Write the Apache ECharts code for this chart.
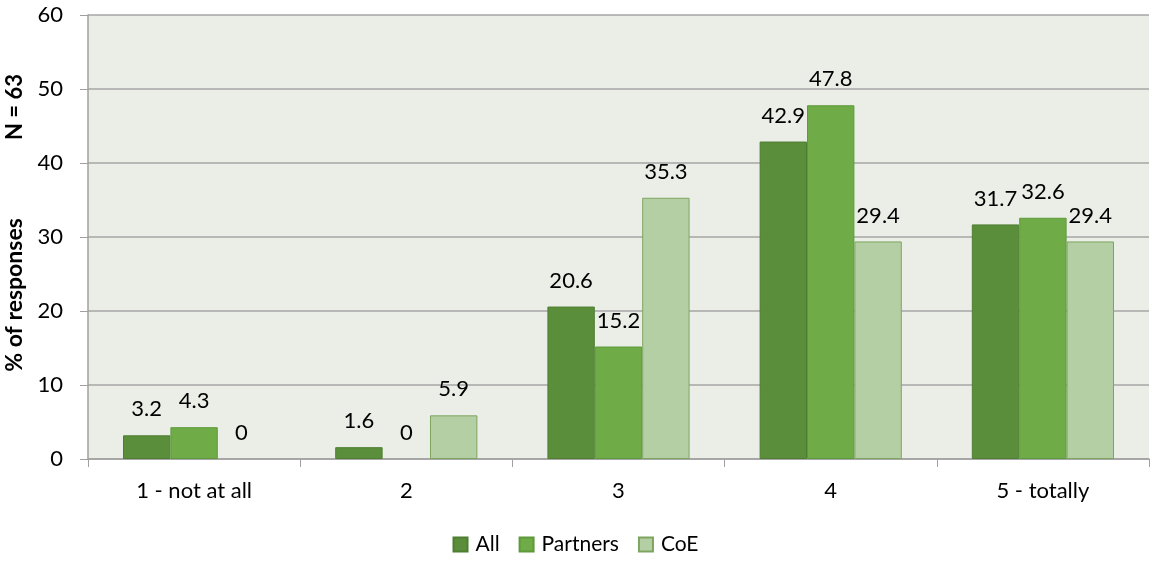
<!DOCTYPE html>
<html>
<head>
<meta charset="utf-8">
<script src="https://cdn.jsdelivr.net/npm/echarts@6/dist/echarts.min.js"></script>
<style>
  html, body { margin: 0; padding: 0; background: #ffffff; }
  #chart { width: 1151px; height: 563px; }
</style>
</head>
<body>
<div id="chart"></div>
<script>
// Response categories along the horizontal axis
const categories = ['1 - not at all', '2', '3', '4', '5 - totally'];

// Share of responses (%) per group
const allValues = [3.2, 1.6, 20.6, 42.9, 31.7];
const partnersValues = [4.3, 0, 15.2, 47.8, 32.6];
const coeValues = [0, 5.9, 35.3, 29.4, 29.4];

const seriesNames = ['All', 'Partners', 'CoE'];
const yTicks = { min: 0, max: 60, interval: 10 };

const FONT = 'Lato, "Open Sans", sans-serif';
const colors = ['#5b8e3a', '#6fac47', '#b5cfa5'];
const borders = ['#4f7e32', '#5e9a3b', '#7ea560'];

const chart = echarts.init(document.getElementById('chart'), null, { renderer: 'canvas' });

function makeSeries(name, data, idx) {
  return {
    name: name,
    type: 'bar',
    // zero bars get no fill or outline so only their label is visible
    data: data.map(v => v === 0
      ? { value: v, itemStyle: { borderWidth: 0, color: 'rgba(0,0,0,0)' } }
      : v),
    barGap: '0%',
    barCategoryGap: '33%',
    itemStyle: { color: colors[idx], borderColor: borders[idx], borderWidth: 1 },
    label: {
      show: true,
      position: 'top',
      distance: 15,
      fontFamily: FONT,
      fontSize: 22,
      color: '#000000'
    }
  };
}

chart.setOption({
  animation: false,
  textStyle: { fontFamily: FONT },
  grid: {
    left: 88, right: 2, top: 15, bottom: 104,
    show: true, backgroundColor: '#eaeee7', borderWidth: 0
  },
  legend: {
    data: seriesNames,
    bottom: 3,
    left: 'center',
    itemWidth: 14,
    itemHeight: 14,
    itemGap: 19,
    icon: 'rect',
    textStyle: { fontFamily: FONT, fontSize: 21, color: '#000000', padding: [0, 0, 0, 3] }
  },
  xAxis: {
    type: 'category',
    data: categories,
    axisLine: { lineStyle: { color: '#a0a0a0', width: 1.5 } },
    axisTick: { show: true, alignWithLabel: false, length: 8, lineStyle: { color: '#a0a0a0' } },
    axisLabel: { fontFamily: FONT, fontSize: 22, color: '#000000', margin: 21 }
  },
  yAxis: {
    type: 'value',
    min: yTicks.min, max: yTicks.max, interval: yTicks.interval,
    axisLine: { show: true, lineStyle: { color: '#a0a0a0', width: 1.5 } },
    axisTick: { show: true, length: 8, lineStyle: { color: '#a0a0a0' } },
    axisLabel: { fontFamily: FONT, fontSize: 22, color: '#000000', margin: 25 },
    splitLine: { show: true, lineStyle: { color: '#a6a6a6', width: 1.5 } }
  },
  graphic: [
    {
      type: 'text', x: 15, y: 295, rotation: Math.PI / 2,
      style: { text: '% of responses', font: 'bold 23px ' + FONT, fill: '#000000', align: 'center', verticalAlign: 'middle' }
    },
    {
      type: 'text', x: 15, y: 107, rotation: Math.PI / 2,
      style: { text: 'N = 63', font: 'bold 22px ' + FONT, fill: '#000000', align: 'center', verticalAlign: 'middle' }
    }
  ],
  series: [
    makeSeries(seriesNames[0], allValues, 0),
    makeSeries(seriesNames[1], partnersValues, 1),
    makeSeries(seriesNames[2], coeValues, 2)
  ]
});
</script>
</body>
</html>
